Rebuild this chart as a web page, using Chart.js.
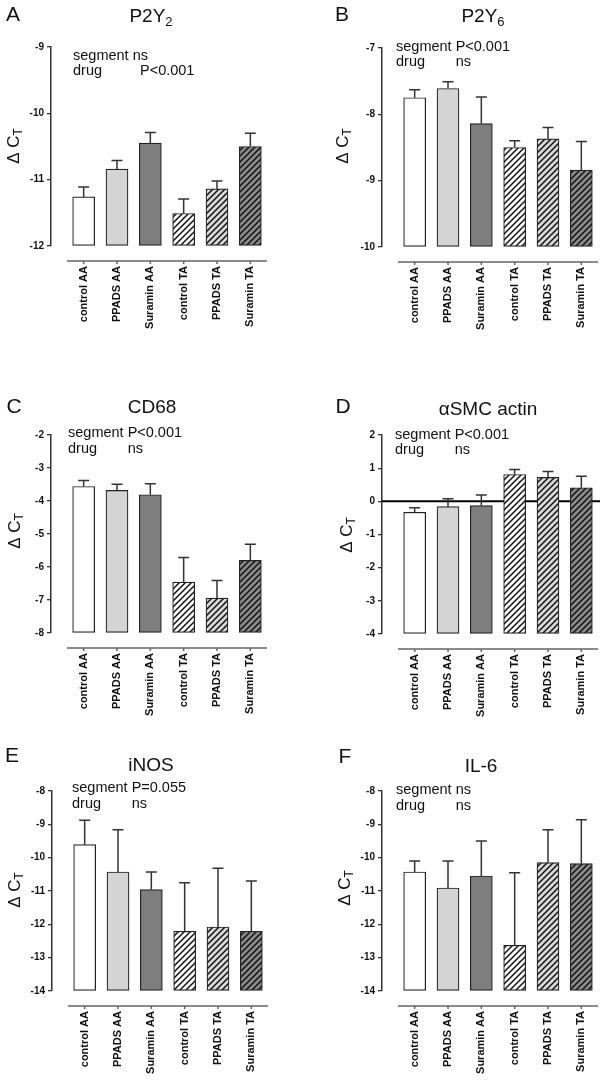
<!DOCTYPE html>
<html>
<head>
<meta charset="utf-8">
<script src="https://cdn.jsdelivr.net/npm/chart.js@4.4.1/dist/chart.umd.min.js"></script>
<style>
  body { margin: 0; background: #fff; }
  #fig { position: relative; width: 600px; height: 1082px; }
  #fig canvas { position: absolute; }
</style>
</head>
<body>
<div id="fig">
  <canvas id="chartA" width="300" height="360" style="left:0;top:0"></canvas>
  <canvas id="chartB" width="300" height="360" style="left:300px;top:0"></canvas>
  <canvas id="chartC" width="300" height="360" style="left:0;top:360px"></canvas>
  <canvas id="chartD" width="300" height="360" style="left:300px;top:360px"></canvas>
  <canvas id="chartE" width="300" height="362" style="left:0;top:720px"></canvas>
  <canvas id="chartF" width="300" height="362" style="left:300px;top:720px"></canvas>
</div>
<script>
// DATA (delta CT, bar = mean, upper = top of the error bar)
const categories = ['control AA', 'PPADS AA', 'Suramin AA', 'control TA', 'PPADS TA', 'Suramin TA'];

const p2y2Mean  = [-11.26, -10.84, -10.45, -11.51, -11.14, -10.50];
const p2y2Upper = [-11.11, -10.71, -10.29, -11.29, -11.02, -10.30];
const p2y2Range = [-12, -9];

const p2y6Mean  = [-7.75, -7.61, -8.14, -8.50, -8.37, -8.84];
const p2y6Upper = [-7.63, -7.51, -7.74, -8.40, -8.20, -8.41];
const p2y6Range = [-10, -7];

const cd68Mean  = [-3.56, -3.68, -3.81, -6.46, -6.94, -5.80];
const cd68Upper = [-3.38, -3.49, -3.48, -5.71, -6.41, -5.31];
const cd68Range = [-8, -2];

const smcMean  = [-0.33, -0.16, -0.13, 0.81, 0.72, 0.41];
const smcUpper = [-0.19, 0.08, 0.19, 0.96, 0.90, 0.76];
const smcRange = [-4, 2];

const inosMean  = [-9.61, -10.43, -10.96, -12.21, -12.08, -12.21];
const inosUpper = [-8.88, -9.16, -10.43, -10.75, -10.32, -10.70];
const inosRange = [-14, -8];

const il6Mean  = [-10.43, -10.91, -10.55, -12.63, -10.15, -10.18];
const il6Upper = [-10.10, -10.10, -9.50, -10.45, -9.16, -8.86];
const il6Range = [-14, -8];

const FONT = 'Arial, "Liberation Sans", sans-serif';

// diagonal hatch fill for the TA bars
function hatch(bg) {
    var c = document.createElement('canvas');
    c.width = 6; c.height = 6;
    var g = c.getContext('2d');
    g.fillStyle = bg;
    g.fillRect(0, 0, 6, 6);
    g.strokeStyle = '#111';
    g.lineWidth = 1.5;
    g.beginPath();
    g.moveTo(-1, 7); g.lineTo(7, -1);
    g.moveTo(-1, 1); g.lineTo(1, -1);
    g.moveTo(5, 7); g.lineTo(7, 5);
    g.stroke();
    return g.createPattern(c, 'repeat');
}

const fills = ['#ffffff', '#d4d4d4', '#7e7e7e', hatch('#ffffff'), hatch('#d8d8d8'), hatch('#8a8a8a')];

// text with a subscript part
function drawSub(ctx, text, sub, cx, cy, size, subSize) {
    ctx.font = size + 'px ' + FONT;
    var w1 = ctx.measureText(text).width;
    ctx.font = subSize + 'px ' + FONT;
    var w2 = sub ? ctx.measureText(sub).width : 0;
    var x = cx - (w1 + w2) / 2;
    ctx.textAlign = 'left';
    ctx.textBaseline = 'middle';
    ctx.font = size + 'px ' + FONT;
    ctx.fillText(text, x, cy);
    if (sub) {
        ctx.font = subSize + 'px ' + FONT;
        ctx.fillText(sub, x + w1, cy + size * 0.3);
    }
}

function makePanel(id, cfg) {
    var canvas = document.getElementById(id);
    var H = canvas.height, W = canvas.width;

    var decor = {
        id: 'decor' + id,
        beforeDatasetsDraw(chart) {
            if (!cfg.zeroLine) return;
            var ctx = chart.ctx, ys = chart.scales.y;
            var y0 = ys.getPixelForValue(0);
            ctx.save();
            ctx.strokeStyle = '#000';
            ctx.lineWidth = 2;
            ctx.beginPath();
            ctx.moveTo(chart.chartArea.left, y0);
            ctx.lineTo(W, y0);
            ctx.stroke();
            ctx.restore();
        },
        afterDatasetsDraw(chart) {
            var ctx = chart.ctx, xs = chart.scales.x, ys = chart.scales.y;
            ctx.save();
            // error bars (upper only)
            ctx.strokeStyle = '#333';
            ctx.lineWidth = 1.5;
            ctx.beginPath();
            cfg.mean.forEach(function (m, i) {
                var x = xs.getPixelForValue(i);
                var y0 = ys.getPixelForValue(m);
                var y1 = ys.getPixelForValue(cfg.upper[i]);
                ctx.moveTo(x, y0); ctx.lineTo(x, y1);
                ctx.moveTo(x - 5.5, y1); ctx.lineTo(x + 5.5, y1);
            });
            ctx.stroke();

            // detached x axis line
            var ya = chart.chartArea.bottom + 15;
            ctx.strokeStyle = '#666';
            ctx.lineWidth = 1.5;
            ctx.beginPath();
            ctx.moveTo(xs.getPixelForValue(-0.5), ya);
            ctx.lineTo(xs.getPixelForValue(5.5), ya);
            categories.forEach(function (c, i) {
                var x = xs.getPixelForValue(i);
                ctx.moveTo(x, ya); ctx.lineTo(x, ya + 3);
            });
            ctx.stroke();

            // letters, titles, notes
            ctx.fillStyle = '#111';
            ctx.font = '21px ' + FONT;
            ctx.textAlign = 'center';
            ctx.textBaseline = 'middle';
            ctx.fillText(cfg.letter, cfg.letterPos[0], cfg.letterPos[1]);

            drawSub(ctx, cfg.title, cfg.titleSub, cfg.titlePos[0], cfg.titlePos[1], 19, 13);

            ctx.save();
            ctx.translate(cfg.yTitlePos[0], cfg.yTitlePos[1]);
            ctx.rotate(-Math.PI / 2);
            drawSub(ctx, '\u0394 C', 'T', 0, 0, 17, 12);
            ctx.restore();

            ctx.font = '14.5px ' + FONT;
            ctx.textAlign = 'left';
            ctx.textBaseline = 'alphabetic';
            var off = ctx.measureText('segment ').width;
            cfg.notes.forEach(function (row, k) {
                var by = cfg.noteY[k];
                ctx.fillText(row[0], cfg.noteX, by);
                var x2 = (cfg.noteX2 && cfg.noteX2[k]) ? cfg.noteX2[k] : cfg.noteX + off;
                ctx.fillText(row[1], x2, by);
            });
            ctx.restore();
        }
    };

    return new Chart(canvas, {
        type: 'bar',
        data: {
            datasets: [{
                data: cfg.mean.map(function (v, i) { return { x: i, y: v }; }),
                backgroundColor: fills,
                borderColor: '#222',
                borderWidth: 1.2,
                borderSkipped: false,
                barThickness: 22,
                base: cfg.range[0]
            }]
        },
        options: {
            responsive: false,
            animation: false,
            devicePixelRatio: 1,
            layout: {
                padding: { top: cfg.area.top, right: W - cfg.area.right, left: 0, bottom: 0 }
            },
            plugins: {
                legend: { display: false },
                tooltip: { enabled: false }
            },
            scales: {
                x: {
                    type: 'linear',
                    offset: false,
                    min: -0.98,
                    max: 5.5,
                    afterFit: function (s) {
                        s.height = H - cfg.area.bottom;
                        s.paddingLeft = 0; s.paddingRight = 0;
                    },
                    border: { display: false },
                    grid: { display: true, drawOnChartArea: false, drawTicks: true, tickLength: 17, color: 'rgba(0,0,0,0)' },
                    ticks: {
                        stepSize: 1,
                        includeBounds: false,
                        autoSkip: false,
                        minRotation: 90,
                        maxRotation: 90,
                        padding: 3,
                        color: '#111',
                        font: { family: FONT, size: 11, weight: 'bold' },
                        callback: function (v) { return categories[v] !== undefined ? categories[v] : ''; }
                    }
                },
                y: {
                    min: cfg.range[0],
                    max: cfg.range[1],
                    afterFit: function (s) {
                        s.width = cfg.area.left;
                        s.paddingTop = 0; s.paddingBottom = 0;
                    },
                    border: { display: true, color: '#333', width: 1.5 },
                    grid: { drawOnChartArea: false, drawTicks: true, tickLength: 4, color: '#333', lineWidth: 1.3 },
                    ticks: {
                        stepSize: 1,
                        padding: 3,
                        color: '#111',
                        font: { family: FONT, size: 10, weight: 'bold' }
                    }
                }
            }
        },
        plugins: [decor]
    });
}

const notesSeg = [['segment', 'P<0.001'], ['drug', 'ns']];

// A - P2Y2
makePanel('chartA', {
    mean: p2y2Mean, upper: p2y2Upper, range: p2y2Range,
    area: { left: 51, right: 267, top: 47, bottom: 246 },
    letter: 'A', letterPos: [13, 15],
    title: 'P2Y', titleSub: '2', titlePos: [151, 17],
    yTitlePos: [14, 146],
    notes: [['segment', 'ns'], ['drug', 'P<0.001']], noteX: 73, noteY: [60, 75], noteX2: [0, 140]
});

// B - P2Y6
makePanel('chartB', {
    mean: p2y6Mean, upper: p2y6Upper, range: p2y6Range,
    area: { left: 82, right: 298, top: 48, bottom: 247 },
    letter: 'B', letterPos: [42, 15],
    title: 'P2Y', titleSub: '6', titlePos: [183, 17],
    yTitlePos: [43, 146],
    notes: notesSeg, noteX: 96, noteY: [51, 66]
});

// C - CD68
makePanel('chartC', {
    mean: cd68Mean, upper: cd68Upper, range: cd68Range,
    area: { left: 51, right: 267, top: 75, bottom: 273 },
    letter: 'C', letterPos: [14, 47],
    title: 'CD68', titleSub: '', titlePos: [152, 48],
    yTitlePos: [15, 171],
    notes: notesSeg, noteX: 68, noteY: [77, 93]
});

// D - alpha SMC actin
makePanel('chartD', {
    mean: smcMean, upper: smcUpper, range: smcRange,
    area: { left: 82, right: 298, top: 75, bottom: 274 },
    letter: 'D', letterPos: [43, 47],
    title: '\u03b1SMC actin', titleSub: '', titlePos: [188, 50],
    yTitlePos: [47, 175],
    notes: notesSeg, noteX: 95, noteY: [79, 94],
    zeroLine: true
});

// E - iNOS
makePanel('chartE', {
    mean: inosMean, upper: inosUpper, range: inosRange,
    area: { left: 52, right: 268, top: 71, bottom: 271 },
    letter: 'E', letterPos: [12, 36],
    title: 'iNOS', titleSub: '', titlePos: [151, 46],
    yTitlePos: [15, 170],
    notes: [['segment', 'P=0.055'], ['drug', 'ns']], noteX: 72, noteY: [72, 88]
});

// F - IL-6
makePanel('chartF', {
    mean: il6Mean, upper: il6Upper, range: il6Range,
    area: { left: 82, right: 298, top: 71, bottom: 271 },
    letter: 'F', letterPos: [45, 37],
    title: 'IL-6', titleSub: '', titlePos: [181, 47],
    yTitlePos: [45, 168],
    notes: [['segment', 'ns'], ['drug', 'ns']], noteX: 96, noteY: [74, 90]
});
</script>
</body>
</html>
